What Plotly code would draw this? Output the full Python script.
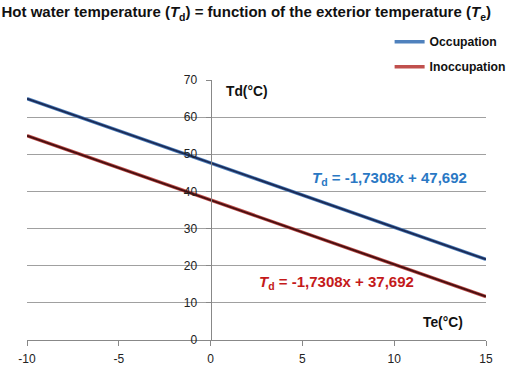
import plotly.graph_objects as go

te = [-10, 15]
td_occupation = [65.0, 21.7]
td_inoccupation = [55.0, 11.7]
x_ticks = [-10, -5, 0, 5, 10, 15]
x_labels = ["-10", "-5", "0", "5", "10", "15"]
y_ticks = [0, 10, 20, 30, 40, 50, 60, 70]

FONT = "Liberation Sans, Arial, sans-serif"

fig = go.Figure()
fig.add_trace(go.Scatter(x=te, y=td_occupation, mode="lines", name="<b>Occupation</b>",
                         line=dict(color="#4f81bd", width=3.5), legendgroup="a"))
fig.add_trace(go.Scatter(x=te, y=td_occupation, mode="lines", showlegend=False,
                         line=dict(color="#1c2c58", width=2), legendgroup="a", hoverinfo="skip"))
fig.add_trace(go.Scatter(x=te, y=td_inoccupation, mode="lines", name="<b>Inoccupation</b>",
                         line=dict(color="#c0504d", width=3.5), legendgroup="b"))
fig.add_trace(go.Scatter(x=te, y=td_inoccupation, mode="lines", showlegend=False,
                         line=dict(color="#4a1010", width=2), legendgroup="b", hoverinfo="skip"))

fig.update_layout(
    width=512, height=368,
    margin=dict(l=27, r=26, t=80, b=28, autoexpand=False),
    paper_bgcolor="white", plot_bgcolor="white",
    font=dict(family=FONT, size=11, color="#222"),
    title=dict(text="<b>Hot water temperature (<i>T</i><sub>d</sub>) = function of the exterior temperature (<i>T</i><sub>e</sub>)</b>",
               x=0.003, xanchor="left", xref="container", y=0.967, yanchor="middle", yref="container",
               font=dict(size=15.0, color="#111", family=FONT)),
    legend=dict(x=0.79, xanchor="left", y=1.203, yanchor="top", traceorder="grouped",
                tracegroupgap=6, font=dict(size=12.2, color="#111"),
                bgcolor="rgba(0,0,0,0)"),
    xaxis=dict(range=[-10, 15], tickvals=x_ticks, ticktext=x_labels, showgrid=False, zeroline=False,
               showline=True, linecolor="#888", linewidth=1, ticks="outside", ticklen=5,
               tickcolor="#888", ticklabelstandoff=3, tickfont=dict(size=12, color="#222")),
    yaxis=dict(range=[0, 70], tickvals=y_ticks, showgrid=True, gridcolor="#a0a0a0", gridwidth=1,
               zeroline=False, showline=True, linecolor="#888", linewidth=1,
               anchor="free", position=0.4, ticks="outside", ticklen=5, tickcolor="#888",
               ticklabelstandoff=6, tickfont=dict(size=12, color="#222")),
    annotations=[
        dict(text="<b>Td(°C)</b>", x=0.73, y=67, xref="x", yref="y", xanchor="left", yanchor="middle",
             showarrow=False, font=dict(size=13.8, color="#111")),
        dict(text="<b>Te(°C)</b>", x=13.86, y=4.6, xref="x", yref="y", xanchor="right", yanchor="middle",
             showarrow=False, font=dict(size=13.8, color="#111")),
        dict(text="<b><i>T</i><sub>d</sub> = -1,7308x + 47,692</b>", x=9.77, y=43.6, xref="x", yref="y",
             xanchor="center", yanchor="middle", showarrow=False, font=dict(size=15, color="#2a78c4")),
        dict(text="<b><i>T</i><sub>d</sub> = -1,7308x + 37,692</b>", x=6.88, y=15.35, xref="x", yref="y",
             xanchor="center", yanchor="middle", showarrow=False, font=dict(size=15, color="#c41a1a")),
    ],
)

fig.write_html("out.html", config={"displayModeBar": False},
               post_script="document.body.style.margin='0';")
